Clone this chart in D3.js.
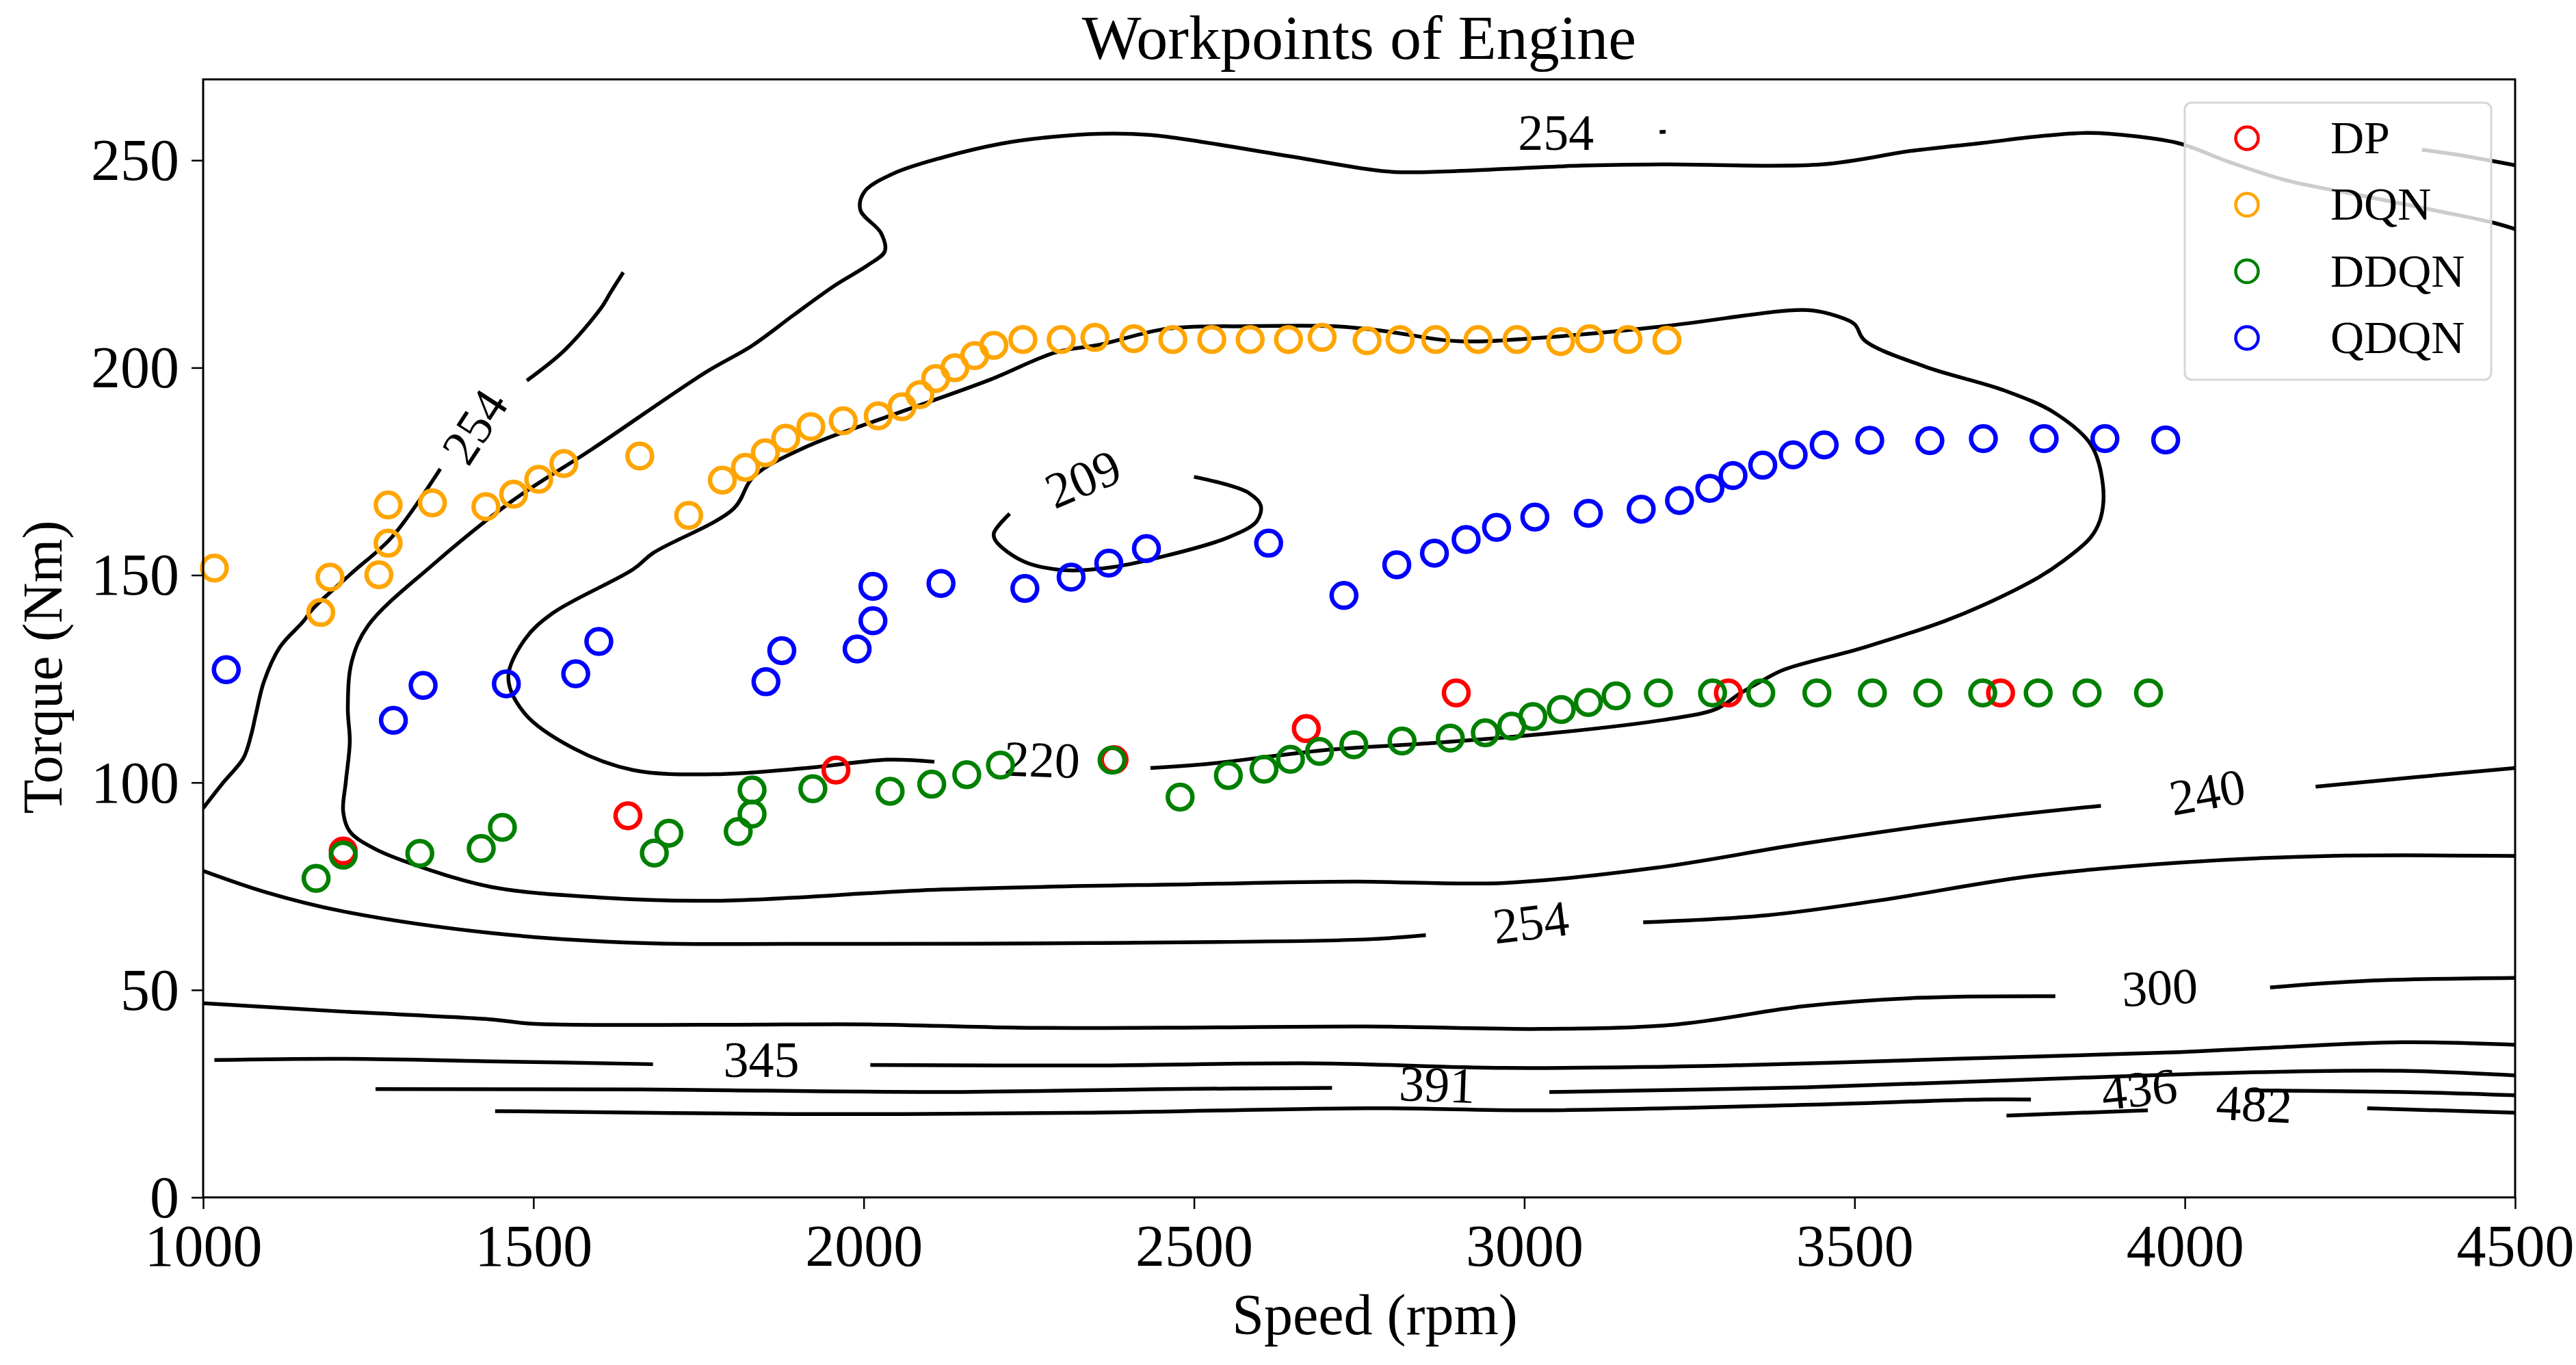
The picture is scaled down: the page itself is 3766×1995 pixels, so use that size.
<!DOCTYPE html>
<html>
<head>
<meta charset="utf-8">
<script src="https://cdn.jsdelivr.net/npm/d3@7"></script>
<style>
  html, body { margin: 0; padding: 0; background: #fff; }
  text { font-family: "Liberation Serif", "DejaVu Serif", serif; fill: #000; }
</style>
</head>
<body>
<div id="chart"></div>
<script>
//
// Workpoints of Engine - BSFC contour map with strategy workpoints
//
var speedTicks = [1000, 1500, 2000, 2500, 3000, 3500, 4000, 4500];
var torqueTicks = [0, 50, 100, 150, 200, 250];

var seriesNames = ["DP", "DQN", "DDQN", "QDQN"];
var seriesColours = ["#ff0000", "#ffa500", "#008000", "#0000ff"];

// [speed rpm, torque Nm]
var dpPoints = [[1212,83.5],[1643,92],[1958,103],[2379,105.5],[2670,113],[2897,121.6],[3309,121.6],[3721,121.6]];

var dqnPoints = [[1017,151.7],[1178,141],[1192,149.5],[1266,150.1],[1280,157.7],[1280,166.9],[1347,167.4],
  [1428,166.5],[1470,169.5],[1508,173.1],[1546,176.9],[1661,178.7],[1735,164.4],[1786,172.9],[1821,176],
  [1851,179.5],[1882,183],[1920,185.8],[1969,187.2],[2022,188.4],[2058,190.6],[2085,193.5],[2109,197.4],
  [2138,200],[2168,202.9],[2197,205.4],[2241,206.8],[2299,206.8],[2350,207.3],[2409,207],[2468,206.8],
  [2527,206.8],[2585,206.8],[2643,206.8],[2694,207.3],[2762,206.5],[2812,206.8],[2866,206.8],[2930,206.8],
  [2989,206.8],[3055,206.3],[3099,207],[3157,206.8],[3216,206.6]];

var ddqnPoints = [[1171,76.9],[1212,82.5],[1328,82.9],[1421,84.1],[1453,89.2],[1683,83],[1705,87.8],
  [1810,88.2],[1831,92.4],[1831,98.2],[1923,98.5],[2040,97.9],[2103,99.6],[2156,101.9],[2207,104.2],
  [2376,105.4],[2479,96.5],[2552,101.7],[2606,103.2],[2646,105.6],[2690,107.5],[2742,109.1],[2815,110],
  [2888,110.7],[2941,112],[2981,113.6],[3013,115.9],[3056,117.6],[3097,119.3],[3139,120.9],[3203,121.6],
  [3285,121.6],[3358,121.6],[3443,121.6],[3527,121.6],[3611,121.6],[3694,121.6],[3778,121.6],[3852,121.6],
  [3945,121.6]];

var qdqnPoints = [[1035,127.2],[1288,115],[1333,123.4],[1459,123.8],[1564,126.2],[1599,134],[1852,124.3],
  [1876,131.8],[1990,132.2],[2014,139],[2014,147.3],[2117,148],[2244,146.8],[2314,149.5],[2371,152.9],
  [2428,156.4],[2613,157.7],[2727,145.1],[2807,152.5],[2864,155.3],[2912,158.6],[2958,161.5],[3016,164],
  [3097,164.9],[3177,165.9],[3235,168],[3281,170.9],[3316,174],[3361,176.5],[3407,179],[3454,181.4],
  [3523,182.5],[3614,182.4],[3695,182.9],[3787,182.9],[3879,182.9],[3971,182.6]];

// contour line pieces (gaps left where the inline labels sit)
var contourPieces = [
  // 254 outer, upper left
  [[1000,93.8],[1031,100.1],[1061,105.9],[1073,111.7],[1080,116.6],[1092,124.3],[1116,132.6],[1152,138.9],
   [1165,141.7],[1225,150.5],[1286,159.2],[1359,175.6]],
  [[1490,196.9],[1547,204.2],[1602,214.3],[1617,218.2],[1636,223]],
  // 240 big loop
  [[4500,233.4],[4468,234.9],[4382,237.8],[4267,241.5],[4153,245.2],[4067,249.6],[3993,254],[3924,255.8],
   [3855,256.6],[3781,255.8],[3695,254.2],[3588,252.3],[3450,249],[3212,249],[3086,248.7],[2835,247.1],
   [2785,247.4],[2647,250.9],[2509,254.5],[2434,256.1],[2359,256.4],[2283,255.6],[2208,254],[2120,250.7],
   [2045,246.8],[2001,242.4],[1995,238],[2026,232.5],[2032,228.1],[2007,224.8],[1957,219.9],[1894,212.7],
   [1831,205.3],[1760,198.8],[1589,180.4],[1468,167.9],[1347,152.4],[1250,137.9],[1225,129.2],[1219,118],
   [1222,109.8],[1216,100.2],[1212,93],[1222,88.2],[1260,84],[1323,80],[1437,74.8],[1600,72.3],[1778,71.5],
   [2118,74.2],[2500,75.5],[2743,76.1],[2970,75.8],[3197,79.4],[3424,85.3],[3651,90.5],[3873,94.4]],
  [[4198,99],[4350,101.3],[4500,103.5]],
  // 254 upper right
  [[4359,252.5],[4410,251.4],[4500,248.8]],
  [[3205,256.8],[3214,256.9]],
  // 220 loop
  [[2434,103.5],[2521,104.5],[2704,107.9],[2860,109.5],[3029,111.7],[3211,115.1],[3290,117.7],[3326,121.4],
   [3363,124.8],[3393,127.2],[3515,132.6],[3636,138.9],[3694,142.7],[3779,149.5],[3815,153.3],[3858,159.2],
   [3873,164],[3876,171.7],[3858,181.4],[3803,189.1],[3727,194.5],[3606,200.3],[3515,206.6],[3500,210.5],
   [3472,212.5],[3436,213.8],[3400,213.8],[3212,210],[3023,207.2],[2898,206.4],[2785,208.9],[2710,210],
   [2583,210],[2459,209.4],[2359,205.6],[2291,203.7],[2188,196.9],[2036,188.2],[1914,181],[1833,173.7],
   [1803,166],[1681,155.3],[1651,151.4],[1529,140.8],[1487,134.5],[1462,125.3],[1487,116.6],[1560,108.3],
   [1651,103],[1772,102],[1914,103.5],[2036,105.5],[2107,105]],
  // 209 loop
  [[2221,164.8],[2197,160.1],[2200,158.2],[2242,153.3],[2303,151.2],[2376,151.9],[2461,154.8],[2552,159.1],
   [2595,163],[2601,166.8],[2583,169.8],[2552,171.7],[2500,173.7]],
  // 254 lower
  [[1000,78.7],[1096,73.5],[1210,69],[1437,63.7],[1664,61.3],[1891,61.1],[2345,61.3],[2763,62.2],[2851,63.2]],
  [[3180,66.3],[3367,68],[3538,71.6],[3765,77.4],[3992,80.7],[4219,82.3],[4500,82.3]],
  // 300
  [[1000,46.8],[1210,44.8],[1437,42.9],[1494,41.9],[1778,41.6],[2005,41.7],[2232,40.9],[2459,40.9],
   [2763,41.2],[3026,40.6],[3231,41.7],[3424,46.1],[3595,48.1],[3804,48.5]],
  [[4129,50.6],[4276,52.2],[4500,52.9]],
  // 345
  [[1017,33.1],[1210,33.4],[1437,32.8],[1681,32.1]],
  [[2010,31.9],[2345,31.8],[2686,32.3],[2970,31.2],[3311,31.8],[3651,33.4],[3992,35],[4118,36],[4329,37.4],[4500,36.8]],
  // 391
  [[1261,26.1],[1664,26],[2118,25.4],[2459,26.1],[2709,26.4]],
  [[3038,25.4],[3424,26.5],[3695,28],[3907,29.2],[4118,30.2],[4329,30.5],[4500,29.4]],
  // 436
  [[1442,20.8],[1891,20.1],[2345,20.4],[2763,21.5],[3026,21],[3424,22.3],[3695,23.6],[3767,23.6]],
  [[4097,25.8],[4329,25.4],[4500,24.6]],
  // 482
  [[3730,19.7],[3944,21]],
  [[4276,21.5],[4500,20.4]]
];

var contourLabelText = ["254", "254", "209", "220", "240", "254", "300", "345", "391", "436", "482"];
var contourLabelAt = [[1411,185.8],[3048,256.7],[2332,173.2],[2270,105.5],[4034,97.7],[3010,66.3],
  [3962,50.6],[1845,33.1],[2868,27.2],[3931,26.1],[4105,22.5]];
var contourLabelAngle = [-57, 0, -23, 2, -10, -7, -3, 0, 2, -6, 3];

// ---- layout ----
var W = 3766, H = 1995;
var margin = {left: 297, right: W - 3677, top: 116, bottom: H - 1750};
var width = W - margin.left - margin.right;
var height = H - margin.top - margin.bottom;

var svg = d3.select("#chart").append("svg")
    .attr("width", W)
    .attr("height", H);

var g = svg.append("g")
    .attr("transform", "translate(" + margin.left + "," + margin.top + ")");

var x = d3.scaleLinear().domain([1000, 4500]).range([0, width]);
var y = d3.scaleLinear().domain([0, 269.5]).range([height, 0]);

// contour lines
var line = d3.line()
    .x(function(d) { return x(d[0]); })
    .y(function(d) { return y(d[1]); })
    .curve(d3.curveCatmullRom.alpha(0.5));

g.append("defs").append("clipPath").attr("id", "plotclip")
  .append("rect").attr("width", width).attr("height", height);

var contours = g.append("g").attr("clip-path", "url(#plotclip)");
contours.selectAll("path")
    .data(contourPieces)
  .enter().append("path")
    .attr("d", line)
    .attr("fill", "none")
    .attr("stroke", "#000")
    .attr("stroke-width", 5.5)
    .attr("stroke-linecap", "butt");

contours.selectAll("text")
    .data(contourLabelText)
  .enter().append("text")
    .attr("transform", function(d, i) {
      return "translate(" + x(contourLabelAt[i][0]) + "," + y(contourLabelAt[i][1]) + ")rotate(" + contourLabelAngle[i] + ")";
    })
    .attr("text-anchor", "middle")
    .attr("dominant-baseline", "central")
    .style("font-size", "74px")
    .text(function(d) { return d; });

// workpoints
var seriesPoints = [dpPoints, dqnPoints, ddqnPoints, qdqnPoints];
seriesPoints.forEach(function(pts, s) {
  g.append("g").selectAll("circle")
      .data(pts)
    .enter().append("circle")
      .attr("cx", function(d) { return x(d[0]); })
      .attr("cy", function(d) { return y(d[1]); })
      .attr("r", 18)
      .attr("fill", "none")
      .attr("stroke", seriesColours[s])
      .attr("stroke-width", 6.5);
});

// axes
var xAxis = g.append("g")
    .attr("transform", "translate(0," + height + ")")
    .call(d3.axisBottom(x).tickValues(speedTicks).tickSize(17).tickPadding(14).tickFormat(d3.format("d")));
var yAxis = g.append("g")
    .call(d3.axisLeft(y).tickValues(torqueTicks).tickSize(17).tickPadding(18).tickFormat(d3.format("d")));

[xAxis, yAxis].forEach(function(ax) {
  ax.select(".domain").remove();
  ax.selectAll(".tick line").attr("stroke", "#000").attr("stroke-width", 2.5);
  ax.selectAll(".tick text")
    .style("font-family", "'Liberation Serif', serif")
    .style("font-size", "86px")
    .attr("fill", "#000");
});
xAxis.selectAll(".tick text").attr("dy", "0.8em");
yAxis.selectAll(".tick text").attr("dy", "0.33em");

// frame
g.append("rect")
    .attr("width", width)
    .attr("height", height)
    .attr("fill", "none")
    .attr("stroke", "#000")
    .attr("stroke-width", 3);

// legend
var legend = svg.append("g").attr("transform", "translate(3194,150)");
legend.append("rect")
    .attr("width", 448)
    .attr("height", 405)
    .attr("rx", 10)
    .attr("fill", "#fff")
    .attr("fill-opacity", 0.8)
    .attr("stroke", "#d6d6d6")
    .attr("stroke-width", 3);
var items = legend.selectAll("g.item")
    .data(seriesNames)
  .enter().append("g")
    .attr("class", "item")
    .attr("transform", function(d, i) { return "translate(0," + (52 + i * 97.3) + ")"; });
items.append("circle")
    .attr("cx", 91)
    .attr("r", 16.5)
    .attr("fill", "none")
    .attr("stroke", function(d, i) { return seriesColours[i]; })
    .attr("stroke-width", 4.5);
items.append("text")
    .attr("x", 213)
    .attr("y", 22)
    .style("font-size", "68px")
    .text(function(d) { return d; });

// titles
svg.append("text")
    .attr("x", margin.left + width / 2)
    .attr("y", 86)
    .attr("text-anchor", "middle")
    .style("font-size", "92px")
    .text("Workpoints of Engine");

svg.append("text")
    .attr("x", 2010)
    .attr("y", 1950)
    .attr("text-anchor", "middle")
    .style("font-size", "84px")
    .text("Speed (rpm)");

svg.append("text")
    .attr("transform", "translate(62,975)rotate(-90)")
    .attr("text-anchor", "middle")
    .attr("dominant-baseline", "central")
    .style("font-size", "82px")
    .text("Torque (Nm)");
</script>
</body>
</html>
